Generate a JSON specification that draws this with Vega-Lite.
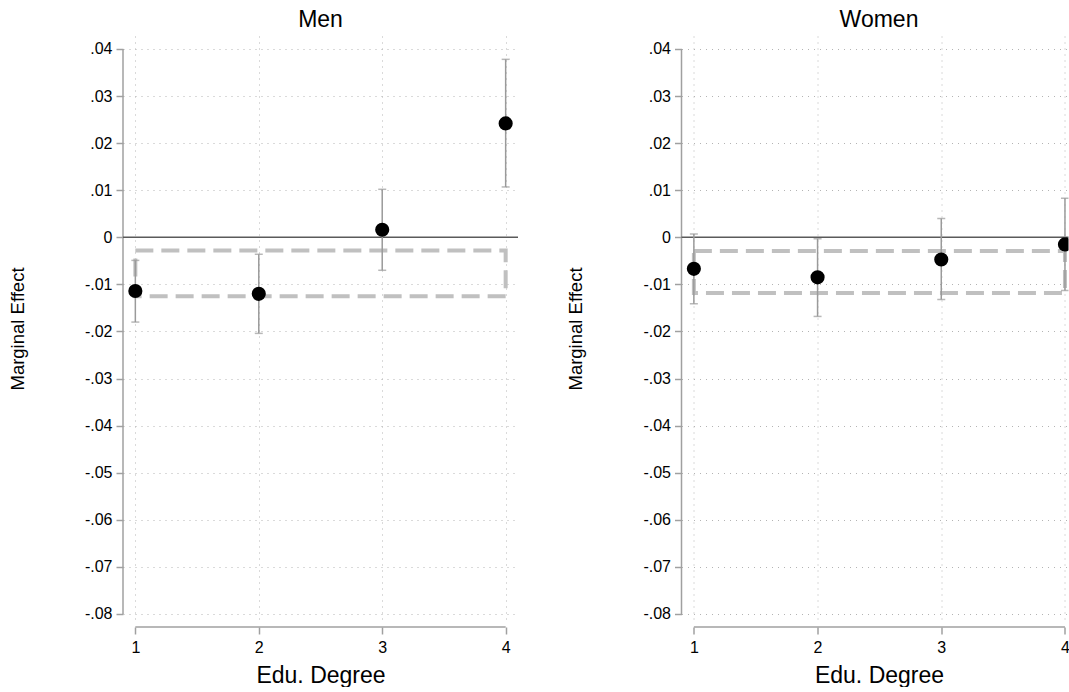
{
  "$schema": "https://vega.github.io/schema/vega-lite/v6.json",
  "padding": {"left": 8, "top": 9, "right": 0, "bottom": 0},
  "bounds": "flush",
  "spacing": 163.5,
  "background": "white",
  "config": {
    "font": "Liberation Sans",
    "view": {"stroke": null},
    "axis": {
      "labelFont": "Liberation Sans",
      "titleFont": "Liberation Sans",
      "labelColor": "#000000",
      "titleColor": "#000000",
      "titleFontWeight": "normal",
      "tickColor": "#a0a0a0",
      "tickWidth": 1.5,
      "gridColor": "#b4b4b4",
      "gridDash": [1, 5],
      "gridWidth": 1,
      "domain": false
    },
    "title": {"font": "Liberation Sans", "fontSize": 23, "fontWeight": "normal", "color": "#000000", "baseline": "alphabetic", "offset": 4}
  },
  "datasets": {
    "est": [
      {"panel": "Men", "degree": 1, "me": -0.0114, "lo": -0.0180, "hi": -0.0049},
      {"panel": "Men", "degree": 2, "me": -0.0120, "lo": -0.0204, "hi": -0.0036},
      {"panel": "Men", "degree": 3, "me": 0.0016, "lo": -0.0070, "hi": 0.0102},
      {"panel": "Men", "degree": 4, "me": 0.0242, "lo": 0.0107, "hi": 0.0378},
      {"panel": "Women", "degree": 1, "me": -0.0067, "lo": -0.0141, "hi": 0.0007},
      {"panel": "Women", "degree": 2, "me": -0.0085, "lo": -0.0168, "hi": -0.0003},
      {"panel": "Women", "degree": 3, "me": -0.0047, "lo": -0.0132, "hi": 0.0040},
      {"panel": "Women", "degree": 4, "me": -0.0015, "lo": -0.0113, "hi": 0.0083}
    ],
    "band": [
      {"panel": "Men", "from": 1, "to": 4, "top": -0.0028, "bottom": -0.0125},
      {"panel": "Women", "from": 1, "to": 4, "top": -0.0029, "bottom": -0.0118}
    ]
  },
  "hconcat": [
    {
      "title": {"text": "Men"},
      "width": 395,
      "height": 585,
      "layer": [
        {
          "data": {"name": "est"},
          "transform": [{"filter": "datum.panel === 'Men'"}],
          "mark": {"type": "rule", "color": "#9a9a9a", "strokeWidth": 1.5, "opacity": 0},
          "encoding": {
            "x": {"field": "degree", "type": "quantitative", "scale": {"domain": [0.9, 4.1], "nice": false, "zero": false},
              "axis": {"values": [1, 2, 3, 4], "format": "d", "title": "Edu. Degree", "titleFontSize": 23, "labelFontSize": 16, "tickSize": 7, "offset": 6, "labelPadding": 5, "titlePadding": 9, "grid": true, "labelFlush": false}},
            "y": {"field": "lo", "type": "quantitative", "scale": {"domain": [-0.08149, 0.04276], "nice": false, "zero": false},
              "axis": {"values": [-0.08, -0.07, -0.06, -0.05, -0.04, -0.03, -0.02, -0.01, 0, 0.01, 0.02, 0.03, 0.04], "labelExpr": "datum.value === 0 ? '0' : (datum.value < 0 ? '-' : '') + '.0' + round(abs(datum.value) * 100)", "title": "Marginal Effect", "titleFontSize": 18.5, "labelFontSize": 16, "tickSize": 7, "labelPadding": 4, "titlePadding": 57, "grid": true}},
            "y2": {"field": "hi"}
          }
        },
        {
          "data": {"values": [{"axis": "y"}]},
          "mark": {"type": "rule", "color": "#a0a0a0", "strokeWidth": 1.5},
          "encoding": {"x": {"datum": 0.9, "type": "quantitative"}, "y": {"datum": -0.08, "type": "quantitative"}, "y2": {"datum": 0.04}}
        },
        {
          "data": {"values": [{"axis": "x"}]},
          "mark": {"type": "rule", "color": "#a0a0a0", "strokeWidth": 1.5},
          "encoding": {"y": {"datum": -0.08276, "type": "quantitative"}, "x": {"datum": 1, "type": "quantitative"}, "x2": {"datum": 4}}
        },
        {
          "data": {"values": [{"ref": 0}]},
          "mark": {"type": "rule", "color": "#5a5a5a", "strokeWidth": 1.5},
          "encoding": {"y": {"field": "ref", "type": "quantitative"}}
        },
        {
          "data": {"name": "band"},
          "transform": [{"filter": "datum.panel === 'Men'"}],
          "mark": {"type": "rect", "fillOpacity": 0, "stroke": "#c0c0c0", "strokeWidth": 4, "strokeDash": [18, 8]},
          "encoding": {"x": {"field": "from", "type": "quantitative"}, "x2": {"field": "to"}, "y": {"field": "top", "type": "quantitative"}, "y2": {"field": "bottom"}}
        },
        {
          "data": {"name": "est"},
          "transform": [{"filter": "datum.panel === 'Men'"}],
          "mark": {"type": "rule", "color": "#9a9a9a", "strokeWidth": 1.5},
          "encoding": {"x": {"field": "degree", "type": "quantitative"}, "y": {"field": "lo", "type": "quantitative"}, "y2": {"field": "hi"}}
        },
        {
          "data": {"name": "est"},
          "transform": [{"filter": "datum.panel === 'Men'"}, {"fold": ["lo", "hi"], "as": ["bound", "val"]}],
          "mark": {"type": "tick", "orient": "horizontal", "color": "#9a9a9a", "size": 8, "thickness": 1.5},
          "encoding": {"x": {"field": "degree", "type": "quantitative"}, "y": {"field": "val", "type": "quantitative"}}
        },
        {
          "data": {"name": "est"},
          "transform": [{"filter": "datum.panel === 'Men'"}],
          "mark": {"type": "circle", "size": 200, "color": "#000000", "opacity": 1},
          "encoding": {"x": {"field": "degree", "type": "quantitative"}, "y": {"field": "me", "type": "quantitative"}}
        }
      ]
    },
    {
      "title": {"text": "Women", "dx": 4},
      "width": 387,
      "height": 585,
      "layer": [
        {
          "data": {"name": "est"},
          "transform": [{"filter": "datum.panel === 'Women'"}],
          "mark": {"type": "rule", "color": "#9a9a9a", "strokeWidth": 1.5, "opacity": 0, "clip": true},
          "encoding": {
            "x": {"field": "degree", "type": "quantitative", "scale": {"domain": [0.9, 4.0286], "nice": false, "zero": false},
              "axis": {"values": [1, 2, 3, 4], "format": "d", "title": "Edu. Degree", "titleFontSize": 23, "labelFontSize": 16, "tickSize": 7, "offset": 6, "labelPadding": 5, "titlePadding": 9, "titleX": 197.5, "grid": true, "labelFlush": false}},
            "y": {"field": "lo", "type": "quantitative", "scale": {"domain": [-0.08149, 0.04276], "nice": false, "zero": false},
              "axis": {"values": [-0.08, -0.07, -0.06, -0.05, -0.04, -0.03, -0.02, -0.01, 0, 0.01, 0.02, 0.03, 0.04], "labelExpr": "datum.value === 0 ? '0' : (datum.value < 0 ? '-' : '') + '.0' + round(abs(datum.value) * 100)", "title": "Marginal Effect", "titleFontSize": 18.5, "labelFontSize": 16, "tickSize": 7, "labelPadding": 4, "titlePadding": 57, "grid": true}},
            "y2": {"field": "hi"}
          }
        },
        {
          "data": {"values": [{"axis": "y"}]},
          "mark": {"type": "rule", "color": "#a0a0a0", "strokeWidth": 1.5},
          "encoding": {"x": {"datum": 0.9, "type": "quantitative"}, "y": {"datum": -0.08, "type": "quantitative"}, "y2": {"datum": 0.04}}
        },
        {
          "data": {"values": [{"axis": "x"}]},
          "mark": {"type": "rule", "color": "#a0a0a0", "strokeWidth": 1.5},
          "encoding": {"y": {"datum": -0.08276, "type": "quantitative"}, "x": {"datum": 1, "type": "quantitative"}, "x2": {"datum": 4}}
        },
        {
          "data": {"values": [{"ref": 0}]},
          "mark": {"type": "rule", "color": "#5a5a5a", "strokeWidth": 1.5},
          "encoding": {"y": {"field": "ref", "type": "quantitative"}}
        },
        {
          "data": {"name": "band"},
          "transform": [{"filter": "datum.panel === 'Women'"}],
          "mark": {"type": "rect", "fillOpacity": 0, "stroke": "#c0c0c0", "strokeWidth": 4, "strokeDash": [18, 8], "clip": true},
          "encoding": {"x": {"field": "from", "type": "quantitative"}, "x2": {"field": "to"}, "y": {"field": "top", "type": "quantitative"}, "y2": {"field": "bottom"}}
        },
        {
          "data": {"name": "est"},
          "transform": [{"filter": "datum.panel === 'Women'"}],
          "mark": {"type": "rule", "color": "#9a9a9a", "strokeWidth": 1.5, "clip": true},
          "encoding": {"x": {"field": "degree", "type": "quantitative"}, "y": {"field": "lo", "type": "quantitative"}, "y2": {"field": "hi"}}
        },
        {
          "data": {"name": "est"},
          "transform": [{"filter": "datum.panel === 'Women'"}, {"fold": ["lo", "hi"], "as": ["bound", "val"]}],
          "mark": {"type": "tick", "orient": "horizontal", "color": "#9a9a9a", "size": 8, "thickness": 1.5, "clip": true},
          "encoding": {"x": {"field": "degree", "type": "quantitative"}, "y": {"field": "val", "type": "quantitative"}}
        },
        {
          "data": {"name": "est"},
          "transform": [{"filter": "datum.panel === 'Women'"}],
          "mark": {"type": "circle", "size": 200, "color": "#000000", "opacity": 1, "clip": true},
          "encoding": {"x": {"field": "degree", "type": "quantitative"}, "y": {"field": "me", "type": "quantitative"}}
        }
      ]
    }
  ]
}
